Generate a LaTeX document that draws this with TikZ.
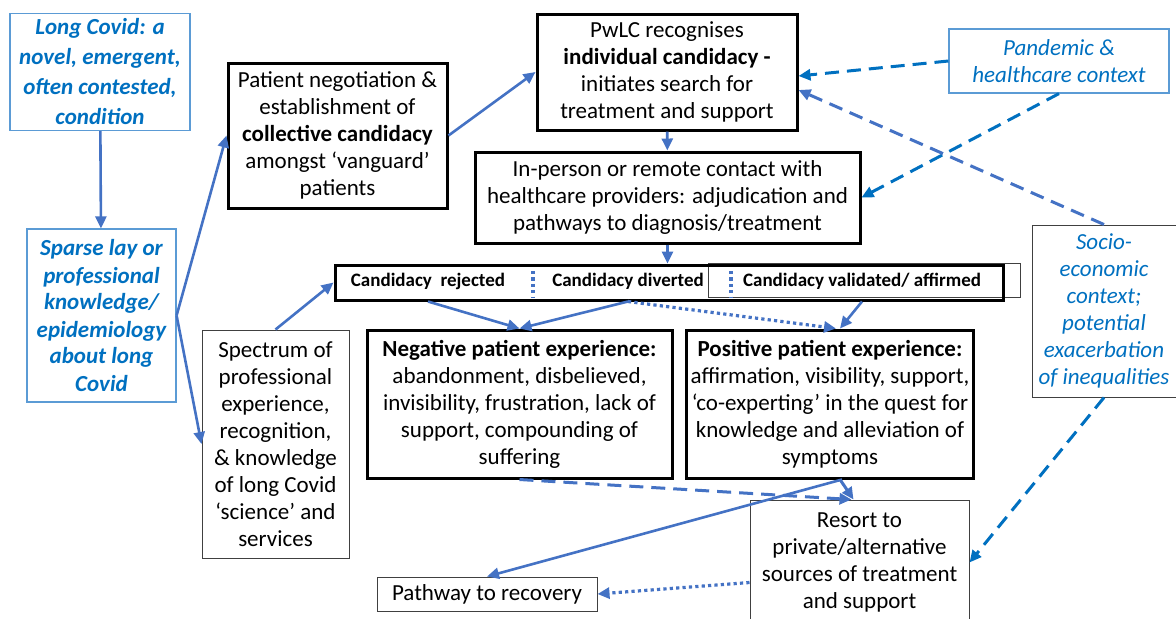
\documentclass[tikz,border=0pt]{standalone}
\usepackage{fontspec}
\setmainfont{Carlito}
\usetikzlibrary{arrows.meta}
\definecolor{arrowblue}{HTML}{4472C4}
\definecolor{ctxblue}{HTML}{0070C0}
\definecolor{ctxline}{HTML}{5B9BD5}
\definecolor{boxgray}{HTML}{404040}

\begin{document}
\begin{tikzpicture}[x=0.5pt,y=-0.5pt,>={Triangle[length=6pt,width=5.5pt]},
  every node/.style={align=center,inner sep=2pt,font=\fontsize{11.5}{13.5}\selectfont},
  heavybox/.style={draw=black,line width=1.5pt},
  lightbox/.style={draw=boxgray,line width=0.5pt},
  ctxbox/.style={draw=ctxline,line width=0.6pt,text=ctxblue},
  ctxbold/.style={font=\fontsize{11.5}{13.5}\selectfont\bfseries\itshape},
  ctxital/.style={font=\fontsize{11.5}{13.5}\selectfont\itshape},
  verdict/.style={font=\fontsize{9.5}{10}\selectfont\bfseries,inner sep=0pt},
  flow/.style={draw=arrowblue,line width=1.3pt,->},
  dotflow/.style={draw=arrowblue,line width=1.6pt,->,dash pattern=on 1.6pt off 1.6pt},
  influence/.style={draw=arrowblue,line width=1.5pt,->,dash pattern=on 7pt off 4pt},
  ctxflow/.style={draw=ctxblue,line width=1.5pt,->,dash pattern=on 7pt off 4pt}]
\useasboundingbox (0,0) rectangle (1176,618);
%
\draw (100,72) node[ctxbox,minimum width=90pt,minimum height=58.5pt,
  font=\fontsize{11.5}{15}\selectfont\bfseries\itshape] (longCovid)
  {Long Covid: a\\novel, emergent,\\often contested,\\condition};
\draw (longCovid) ++ (1.5,243.5) node[ctxbox,ctxbold,minimum width=74.5pt,minimum height=86.5pt] (sparseKnowledge)
  {Sparse lay or\\professional\\knowledge/\\epidemiology\\about long\\Covid};
\path[flow] (longCovid) -- (sparseKnowledge);
%
\draw (337.5,135.5) node[heavybox,minimum width=109.5pt,minimum height=72.5pt] (collectiveCand)
  {Patient negotiation \&\\establishment of\\\textbf{collective candidacy}\\amongst `vanguard'\\patients};
\path[flow] (sparseKnowledge.east) -- (collectiveCand.west);
\draw (275.5,444) node[lightbox,minimum width=73.5pt,minimum height=114pt] (profSpectrum)
  {Spectrum of\\professional\\experience,\\recognition,\\\& knowledge\\of long Covid\\`science' and\\services};
\path[flow] (sparseKnowledge.east) -- (profSpectrum.west);
%
\draw (667,72) node[heavybox,minimum width=130pt,minimum height=58pt] (individualCand)
  {PwLC recognises\\\textbf{individual candidacy -}\\initiates search for\\treatment and support};
\path[flow] (collectiveCand.east) -- (individualCand.west);
\draw (individualCand) ++ (0.5,125.5) node[heavybox,minimum width=192.5pt,minimum height=45.5pt] (providerContact)
  {In-person or remote contact with\\healthcare providers: adjudication and\\pathways to diagnosis/treatment};
\path[flow] (individualCand) -- (providerContact);
%
\draw (864,280) node[lightbox,minimum width=156pt,minimum height=17pt] (validatedFrame) {};
\draw (669,282.5) node[heavybox,minimum width=334pt,minimum height=17.5pt] (candidacyOutcome) {};
\draw (428,281) node[verdict] (candRejected) {Candidacy\ \ rejected};
\draw (628,281) node[verdict] (candDiverted) {Candidacy diverted};
\draw (862,281) node[verdict] (candValidated) {Candidacy validated/\ affirmed};
\draw[arrowblue,line width=1.6pt,dash pattern=on 1.6pt off 1.6pt] (533,271) -- (533,297);
\draw[arrowblue,line width=1.6pt,dash pattern=on 1.6pt off 1.6pt] (731,271) -- (731,297);
\path[flow] (providerContact.south) -- (providerContact.south |- candidacyOutcome.north);
\path[flow] (profSpectrum.north) -- (candidacyOutcome.west);
%
\draw (519.5,404) node[heavybox,minimum width=152.5pt,minimum height=74pt] (negativeExp)
  {\textbf{Negative patient experience:}\\abandonment, disbelieved,\\invisibility, frustration, lack of\\support, compounding of\\suffering};
\draw (830,404) node[heavybox,minimum width=143pt,minimum height=74pt] (positiveExp)
  {\textbf{Positive patient experience:}\\affirmation, visibility, support,\\`co-experting' in the quest for\\knowledge and alleviation of\\symptoms};
\path[flow] (candRejected |- candidacyOutcome.south) -- (negativeExp.north);
\path[flow] (candDiverted |- candidacyOutcome.south) -- (negativeExp.north);
\path[dotflow] (candDiverted |- candidacyOutcome.south) -- ([xshift=3pt]positiveExp.north);
\path[flow] (candValidated |- candidacyOutcome.south) -- ([xshift=5pt]positiveExp.north);
%
\draw (859.5,562.5) node[lightbox,minimum width=109.5pt,minimum height=62.5pt] (resortPrivate)
  {Resort to\\private/alternative\\sources of treatment\\and support};
\draw (487,594) node[lightbox,minimum width=110pt,minimum height=17pt] (recoveryPath)
  {Pathway to recovery};
\path[influence] (negativeExp.south) -- ([xshift=-4pt]resortPrivate.north);
\path[influence] ([xshift=5pt]positiveExp.south) -- ([xshift=-3pt]resortPrivate.north);
\path[flow] ([xshift=6pt]positiveExp.south) -- (recoveryPath.north);
\path[dotflow] ([yshift=-10pt]resortPrivate.west) -- (recoveryPath.east);
%
\draw (1059,61) node[ctxbox,ctxital,minimum width=110pt,minimum height=32pt] (pandemicCtx)
  {Pandemic \&\\healthcare context};
\path[ctxflow] (pandemicCtx.west) -- ([yshift=-2pt]individualCand.east);
\path[ctxflow] (pandemicCtx.south) -- (providerContact.east);
\draw (1104,311) node[lightbox,ctxital,text=ctxblue,minimum width=72pt,minimum height=86pt] (socioCtx)
  {Socio-\\economic\\context;\\potential\\exacerbation\\of inequalities};
\path[influence] (socioCtx.north) -- ([yshift=-9pt]individualCand.east);
\path[ctxflow] (socioCtx.south) -- (resortPrivate.east);
\end{tikzpicture}
\end{document}
